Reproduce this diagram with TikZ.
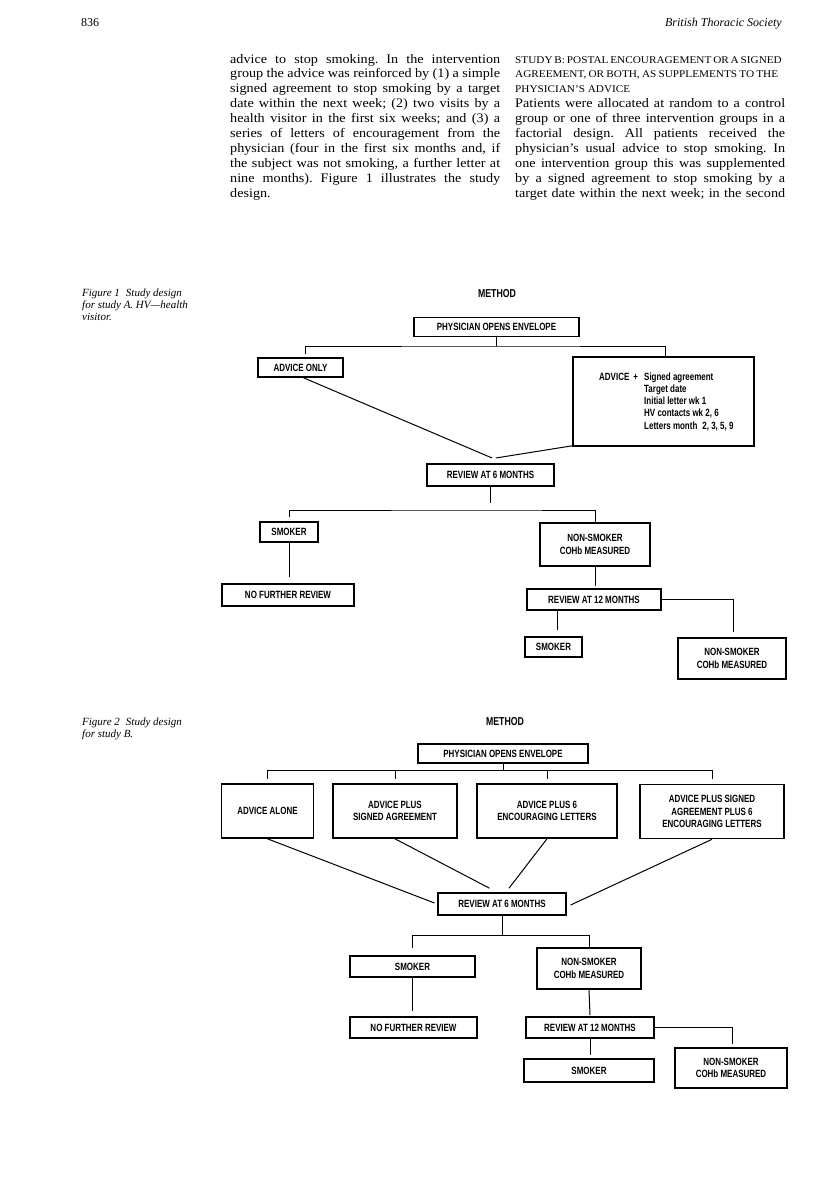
\documentclass[tikz,border=0pt]{standalone}
\usepackage{fontspec}
\setmainfont{Liberation Serif}
\newfontfamily\bodyfont[FakeStretch=1.09]{Liberation Serif}
\newfontfamily\figfont[FakeStretch=0.76]{Liberation Sans}
\newcommand{\jl}[1]{\makebox[270pt][s]{#1}}
\newcommand{\jh}[1]{\makebox[263pt][s]{#1}}
\frenchspacing
\tikzset{
  box/.style={draw, line width=1.6pt, inner sep=1pt, align=center,
    font=\figfont\bfseries\fontsize{10.5}{12.3}\selectfont},
  conn/.style={line width=1pt},
  figtxt/.style={inner sep=0pt, anchor=base west,
    font=\figfont\bfseries\fontsize{10.5}{12.3}\selectfont},
  method/.style={inner sep=0pt, anchor=base,
    font=\figfont\bfseries\fontsize{11.5}{13}\selectfont},
  bodyl/.style={inner sep=0pt, anchor=base west, font=\bodyfont\fontsize{13}{15}\selectfont},
  headl/.style={inner sep=0pt, anchor=base west, font=\bodyfont\fontsize{10.3}{12}\selectfont},
  capl/.style={inner sep=0pt, anchor=base west, font=\itshape\fontsize{11}{12}\selectfont},
  pagel/.style={inner sep=0pt, font=\fontsize{12}{14}\selectfont},
}
\begin{document}
\begin{tikzpicture}[x=1pt,y=-1pt]
\useasboundingbox[fill=white] (0,0) rectangle (816,1179);

% ---------- running head ----------
\node[pagel, anchor=base west] (pg) at (81,26) {836};
\node[pagel, anchor=base east, font=\itshape\fontsize{12}{14}\selectfont] (jr) at (782,26) {British Thoracic Society};

% ---------- left column ----------
\node[bodyl] (L1) at (230,63.0) {\jl{advice to stop smoking. In the intervention}};
\node[bodyl] (L2) at (230,77.9) {\jl{group the advice was reinforced by (1) a simple}};
\node[bodyl] (L3) at (230,92.8) {\jl{signed agreement to stop smoking by a target}};
\node[bodyl] (L4) at (230,107.7) {\jl{date within the next week; (2) two visits by a}};
\node[bodyl] (L5) at (230,122.6) {\jl{health visitor in the first six weeks; and (3) a}};
\node[bodyl] (L6) at (230,137.5) {\jl{series of letters of encouragement from the}};
\node[bodyl] (L7) at (230,152.4) {\jl{physician (four in the first six months and, if}};
\node[bodyl] (L8) at (230,167.3) {\jl{the subject was not smoking, a further letter at}};
\node[bodyl] (L9) at (230,182.2) {\jl{nine months). Figure 1 illustrates the study}};
\node[bodyl] (L10) at (230,197.1) {design.};

% ---------- right column ----------
\node[headl] (R1) at (515,63.0) {\jh{STUDY B: POSTAL ENCOURAGEMENT OR A SIGNED}};
\node[headl] (R2) at (515,77.9) {\jh{AGREEMENT, OR BOTH, AS SUPPLEMENTS TO THE}};
\node[headl] (R3) at (515,92.8) {PHYSICIAN’S ADVICE};
\node[bodyl] (R4) at (515,107.7) {\jl{Patients were allocated at random to a control}};
\node[bodyl] (R5) at (515,122.6) {\jl{group or one of three intervention groups in a}};
\node[bodyl] (R6) at (515,137.5) {\jl{factorial design. All patients received the}};
\node[bodyl] (R7) at (515,152.4) {\jl{physician’s usual advice to stop smoking. In}};
\node[bodyl] (R8) at (515,167.3) {\jl{one intervention group this was supplemented}};
\node[bodyl] (R9) at (515,182.2) {\jl{by a signed agreement to stop smoking by a}};
\node[bodyl] (R10) at (515,197.1) {\jl{target date within the next week; in the second}};

% ---------- Figure 1 ----------
\node[capl] (c1a) at (82,296) {Figure 1\hspace{6pt}Study design};
\node[capl] (c1b) at (82,308) {for study A. HV—health};
\node[capl] (c1c) at (82,320) {visitor.};
\node[method] (m1) at (497,297) {METHOD};

\node[box, minimum width=165pt, minimum height=19pt] (p1) at (496.5,327) {PHYSICIAN OPENS ENVELOPE};
\node[box, minimum width=85pt, minimum height=19pt] (a1) at (300.5,367.5) {ADVICE ONLY};
\node[box, minimum width=181pt, minimum height=89pt] (b1) at (663.5,401.5) {};
\node[figtxt] (b1a) at (599,380) {ADVICE\hspace{4pt}+};
\node[figtxt] (b1l1) at (644,380) {Signed agreement};
\node[figtxt] (b1l2) at (644,392.3) {Target date};
\node[figtxt] (b1l3) at (644,404.6) {Initial letter wk 1};
\node[figtxt] (b1l4) at (644,416.9) {HV contacts wk 2, 6};
\node[figtxt] (b1l5) at (644,429.2) {Letters month\hspace{5pt}2, 3, 5, 9};
\node[box, minimum width=127pt, minimum height=22.5pt] (r1) at (490.5,475) {REVIEW AT 6 MONTHS};
\node[box, minimum width=58pt, minimum height=20pt] (s1) at (289,532) {SMOKER};
\node[box, minimum width=110pt, minimum height=43pt] (n1) at (595,544.5) {NON-SMOKER\\COHb MEASURED};
\node[box, minimum width=132pt, minimum height=22pt] (f1) at (288,595) {NO FURTHER REVIEW};
\node[box, minimum width=134pt, minimum height=21pt] (t1) at (594,599.5) {REVIEW AT 12 MONTHS};
\node[box, minimum width=57pt, minimum height=20pt] (s1b) at (553.5,647) {SMOKER};
\node[box, minimum width=108pt, minimum height=41pt] (n1b) at (732,658.5) {NON-SMOKER\\COHb MEASURED};

\coordinate (j1) at (496.5,346);
\coordinate (a1t) at (305,354);
\coordinate (b1t) at (665,356);
\draw[conn] (p1.south) -- (j1);
\draw[conn] (a1t) |- (j1) -| (b1t);
\draw[conn] ([xshift=3pt]a1.south) -- ([xshift=1.5pt,yshift=5pt]r1.north);
\draw[conn] ([yshift=1pt]b1.south west) -- ([xshift=5.5pt,yshift=5pt]r1.north);
\coordinate (r1s) at (490.5,503);
\draw[conn] (r1.south) -- (r1s);
\coordinate (s1t) at (289,517);
\coordinate (h1) at (490.5,510);
\draw[conn] (s1t) |- (h1) -| (n1.north);
\coordinate (f1t) at (289,577);
\draw[conn] (s1.south) -- (f1t);
\coordinate (t1t) at (595,586);
\draw[conn] (n1.south) -- (t1t);
\coordinate (n1bt) at (733,632);
\draw[conn] (t1.east) -| (n1bt);
\coordinate (s1bt) at (557,630);
\draw[conn] (t1.south -| s1bt) -- (s1bt);

% ---------- Figure 2 ----------
\node[capl] (c2a) at (82,725) {Figure 2\hspace{6pt}Study design};
\node[capl] (c2b) at (82,737) {for study B.};
\node[method] (m2) at (505,725) {METHOD};

\node[box, minimum width=170pt, minimum height=19pt] (p2) at (503,753.5) {PHYSICIAN OPENS ENVELOPE};
\node[box, minimum width=92pt, minimum height=54pt] (A2) at (267.5,811) {ADVICE ALONE};
\node[box, minimum width=124pt, minimum height=54pt] (B2) at (395,811) {ADVICE PLUS\\SIGNED AGREEMENT};
\node[box, minimum width=140pt, minimum height=54pt] (C2) at (547,811) {ADVICE PLUS 6\\ENCOURAGING LETTERS};
\node[box, minimum width=143.5pt, minimum height=54pt] (D2) at (712,811.5) {ADVICE PLUS SIGNED\\AGREEMENT PLUS 6\\ENCOURAGING LETTERS};
\node[box, minimum width=127.5pt, minimum height=22pt] (RV2) at (502,904) {REVIEW AT 6 MONTHS};
\node[box, minimum width=125pt, minimum height=21pt] (S2) at (412.5,966.5) {SMOKER};
\node[box, minimum width=104pt, minimum height=41pt] (N2) at (589,968.5) {NON-SMOKER\\COHb MEASURED};
\node[box, minimum width=127pt, minimum height=21pt] (F2) at (413.5,1027.5) {NO FURTHER REVIEW};
\node[box, minimum width=128pt, minimum height=21pt] (T2) at (590,1027.5) {REVIEW AT 12 MONTHS};
\node[box, minimum width=130pt, minimum height=23pt] (S2b) at (589,1070.5) {SMOKER};
\node[box, minimum width=112pt, minimum height=40pt] (N2b) at (731,1068) {NON-SMOKER\\COHb MEASURED};

\coordinate (j2) at (503,770);
\coordinate (A2t) at (267.5,778.5);
\coordinate (B2t) at (395,778.5);
\coordinate (C2t) at (547,778.5);
\coordinate (D2t) at (712,778.5);
\draw[conn] (p2.south) -- (j2);
\draw[conn] (A2t) |- (j2) -| (D2t);
\draw[conn] (B2t) -- (B2t |- j2);
\draw[conn] (C2t) -- (C2t |- j2);
\draw[conn] (A2.south) -- ([xshift=-3pt,yshift=1pt]RV2.west);
\draw[conn] (B2.south) -- ([xshift=-12.5pt,yshift=4pt]RV2.north);
\draw[conn] (C2.south) -- ([xshift=7pt,yshift=4pt]RV2.north);
\draw[conn] (D2.south) -- ([xshift=4pt,yshift=-1pt]RV2.east);
\coordinate (j3) at (502,935);
\coordinate (S2t) at (412.5,948);
\draw[conn] (RV2.south) -- (j3);
\draw[conn] (S2t) |- (j3) -| (N2.north);
\coordinate (F2t) at (412.5,1011);
\draw[conn] (S2.south) -- (F2t);
\coordinate (T2t) at (590,1015);
\draw[conn] (N2.south) -- (T2t);
\coordinate (N2bt) at (732,1044);
\draw[conn] (T2.east) -| (N2bt);
\coordinate (S2bt) at (590,1055);
\draw[conn] (T2.south) -- (S2bt);
\end{tikzpicture}
\end{document}
